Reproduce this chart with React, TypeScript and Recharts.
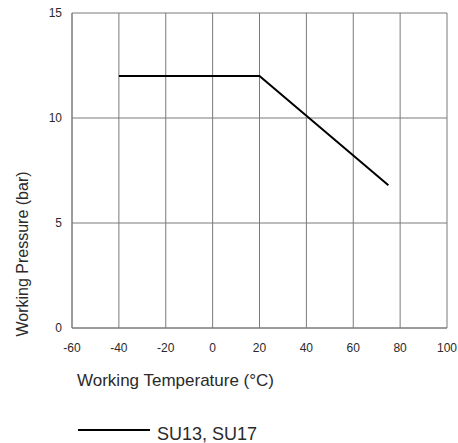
import { CartesianGrid, Legend, Line, LineChart, XAxis, YAxis } from 'recharts'

// Pressure/temperature rating curve, single series.
const temperatures = [-40, 20, 75]
const pressures = [12, 12, 6.8]
const xTicks = [-60, -40, -20, 0, 20, 40, 60, 80, 100]
const yTicks = [0, 5, 10, 15]
const seriesName = 'SU13, SU17'

const FONT = '"Liberation Sans", Arial, Helvetica, sans-serif'
const GRID = '#7a7a7a'
const TEXT = '#2a2a2a'

const data = temperatures.map((t, i) => ({ t, p: pressures[i] }))

// legend svg is 24px tall, chart bottom margin accounts for it
const LEGEND_H = 24

function LegendContent() {
  return (
    <svg width={220} height={LEGEND_H} style={{ display: 'block' }}>
      <line x1={0} y1={10} x2={72} y2={10} stroke="#000" strokeWidth={2} />
      <text x={79} y={20} fontFamily={FONT} fontSize={18} fill={TEXT}>
        {seriesName}
      </text>
    </svg>
  )
}

export default function App() {
  return (
    <div style={{ position: 'absolute', left: 0, top: 0, background: '#fff' }}>
      <LineChart
        width={458}
        height={443}
        data={data}
        margin={{ top: 13, right: 11, bottom: 85 - LEGEND_H, left: 0 }}
      >
        <CartesianGrid stroke={GRID} horizontalValues={yTicks} verticalValues={xTicks} />
        <XAxis
          dataKey="t"
          type="number"
          domain={[-60, 100]}
          ticks={xTicks}
          interval={0}
          tickLine={false}
          tickMargin={9}
          axisLine={{ stroke: GRID }}
          tick={{ fill: TEXT, fontSize: 12, fontFamily: FONT }}
          height={30}
          label={() => (
            <text x={77} y={386} fontFamily={FONT} fontSize={17} fill={TEXT}>
              Working Temperature (°C)
            </text>
          )}
        />
        <YAxis
          type="number"
          domain={[0, 15]}
          ticks={yTicks}
          interval={0}
          tickLine={false}
          tickMargin={4}
          axisLine={{ stroke: GRID }}
          tick={{ fill: TEXT, fontSize: 12, fontFamily: FONT }}
          width={72}
          label={() => (
            <text
              x={28}
              y={254}
              transform="rotate(-90 28 254)"
              textAnchor="middle"
              fontFamily={FONT}
              fontSize={16}
              fill={TEXT}
            >
              Working Pressure (bar)
            </text>
          )}
        />
        <Legend
          content={<LegendContent />}
          wrapperStyle={{ position: 'absolute', left: 78, top: 420, width: 220 }}
        />
        <Line
          type="linear"
          dataKey="p"
          name={seriesName}
          stroke="#000"
          strokeWidth={2}
          dot={false}
          isAnimationActive={false}
        />
      </LineChart>
    </div>
  )
}
